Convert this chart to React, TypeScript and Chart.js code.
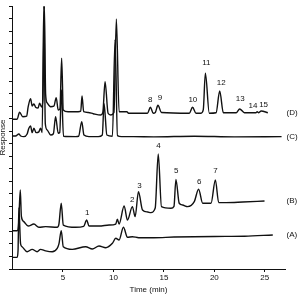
import { useEffect, useRef } from 'react';
import { Chart, registerables } from 'chart.js';

Chart.register(...registerables);

// ---- data (time in min, response in arbitrary units) ----
const aTime = [-0.05, 0.46, 0.55, 0.63, 0.80, 0.95, 1.45, 1.95, 2.44, 2.78, 3.28, 3.93, 4.43, 4.60, 4.83, 5.03, 5.92, 7.25, 7.91, 8.57, 9.24, 9.90, 10.23, 10.56, 10.99, 11.39, 11.88, 12.50, 14.00, 16.00, 20.00, 23.00, 25.79];
const aResp = [0.93, 0.93, 1.50, 4.87, 2.00, 1.78, 1.38, 1.57, 1.38, 1.57, 1.45, 1.38, 1.65, 2.00, 3.06, 1.78, 1.57, 1.78, 1.60, 1.84, 1.70, 2.05, 2.45, 2.32, 3.33, 2.53, 2.58, 2.50, 2.50, 2.55, 2.60, 2.62, 2.72];

const bTime = [-0.05, 0.46, 0.60, 0.77, 0.88, 1.12, 1.55, 2.12, 2.61, 3.28, 4.43, 4.60, 4.83, 5.03, 6.26, 7.05, 7.35, 7.58, 8.57, 9.57, 10.23, 10.39, 10.56, 11.06, 11.39, 11.88, 12.15, 12.48, 12.88, 13.40, 13.71, 14.14, 14.44, 14.76, 15.70, 16.00, 16.19, 16.52, 16.85, 17.35, 18.01, 18.44, 18.84, 19.67, 20.10, 20.43, 21.16, 22.81, 24.97];
const bResp = [3.06, 3.06, 3.50, 6.31, 4.20, 3.78, 3.43, 3.59, 3.33, 3.38, 3.33, 3.59, 5.25, 3.51, 3.33, 3.40, 3.91, 3.43, 3.43, 3.51, 3.59, 3.97, 3.59, 5.03, 3.91, 4.98, 4.18, 6.17, 4.71, 4.55, 4.50, 4.87, 9.19, 4.98, 4.85, 5.00, 7.16, 5.25, 5.11, 4.98, 5.38, 6.37, 5.25, 5.25, 7.11, 5.30, 5.30, 5.35, 5.43];

const cTime = [-0.05, 0.30, 0.63, 0.82, 1.12, 1.45, 1.62, 1.79, 1.95, 2.12, 2.34, 2.61, 2.78, 2.94, 3.10, 3.25, 3.44, 3.78, 4.05, 4.27, 4.53, 4.68, 4.85, 5.05, 6.26, 6.55, 6.86, 7.08, 7.58, 8.50, 8.90, 9.07, 9.35, 9.90, 10.16, 10.40, 10.80, 12.00, 14.00, 18.00, 22.00, 26.66];
const cResp = [10.62, 10.62, 10.78, 10.62, 10.57, 10.78, 11.24, 11.42, 10.89, 11.24, 10.89, 10.95, 11.24, 10.90, 21.00, 11.60, 11.10, 10.70, 10.80, 12.16, 10.84, 10.90, 14.30, 10.60, 10.57, 10.60, 11.77, 10.70, 10.57, 10.57, 10.70, 13.20, 10.70, 10.60, 18.30, 10.65, 10.57, 10.57, 10.55, 10.60, 10.55, 10.57];

const dTime = [-0.05, 0.46, 0.70, 1.02, 1.40, 1.55, 1.79, 1.95, 2.12, 2.29, 2.54, 2.68, 2.88, 3.01, 3.16, 3.28, 3.44, 3.78, 4.10, 4.33, 4.53, 4.70, 4.87, 5.03, 5.50, 6.50, 6.76, 6.89, 7.05, 7.50, 8.00, 8.74, 8.95, 9.17, 9.47, 9.74, 10.05, 10.29, 10.56, 11.33, 11.50, 13.37, 13.67, 13.94, 14.15, 14.41, 14.76, 17.52, 17.84, 18.18, 18.68, 18.90, 19.11, 19.50, 20.17, 20.53, 20.89, 22.16, 22.51, 22.98, 24.14, 24.24, 24.40, 24.64, 25.30];
const dResp = [11.96, 11.96, 12.52, 12.16, 12.20, 12.94, 13.60, 13.02, 13.18, 12.92, 12.86, 13.23, 12.94, 13.50, 21.00, 14.00, 13.26, 12.96, 13.00, 13.68, 12.70, 12.80, 16.83, 12.70, 12.56, 12.56, 12.60, 13.82, 12.56, 12.50, 12.40, 12.30, 12.50, 14.96, 12.44, 12.30, 12.50, 19.97, 12.56, 12.56, 12.44, 12.44, 12.92, 12.44, 12.50, 13.07, 12.50, 12.44, 12.92, 12.44, 12.44, 12.70, 15.63, 12.44, 12.48, 14.22, 12.48, 12.48, 12.78, 12.48, 12.48, 12.56, 12.48, 12.62, 12.48];

const seriesNames = ['(A)', '(B)', '(C)', '(D)'];

const peakNumbers = ['1', '2', '3', '4', '5', '6', '7', '8', '9', '10', '11', '12', '13', '14', '15'];
const peakLabelTime = [7.40, 11.86, 12.58, 14.47, 16.22, 18.50, 20.12, 13.64, 14.60, 17.87, 19.20, 20.68, 22.57, 23.82, 24.88];
const peakLabelResp = [4.50, 5.51, 6.63, 9.82, 7.83, 6.97, 7.83, 13.50, 13.68, 13.50, 16.48, 14.88, 13.63, 13.02, 13.15];

const xTicks = [5, 10, 15, 20, 25];
const xMin = -0.05;
const xMax = 27;
const yMin = 0;
const yMax = 21;

const FONT = '"Liberation Sans", Arial, Helvetica, sans-serif';
const INK = '#111';

const toPoints = (t: number[], r: number[]) => t.map((x, i) => ({ x, y: r[i] }));

const labelPlugin = {
  id: 'chromLabels',
  afterDatasetsDraw(chart: any) {
    const { ctx, scales, chartArea } = chart;
    const xs = scales.x;
    const ys = scales.y;
    ctx.save();
    ctx.fillStyle = INK;
    ctx.font = `8px ${FONT}`;
    ctx.textAlign = 'center';
    ctx.textBaseline = 'middle';
    peakNumbers.forEach((txt, i) => {
      ctx.fillText(txt, xs.getPixelForValue(peakLabelTime[i]), ys.getPixelForValue(peakLabelResp[i]));
    });
    ctx.textAlign = 'left';
    chart.data.datasets.forEach((ds: any, i: number) => {
      const last = ds.data[ds.data.length - 1];
      ctx.fillText(seriesNames[i], chartArea.right + 1.5, ys.getPixelForValue(last.y));
    });
    ctx.restore();
  },
};

export default function App() {
  const ref = useRef<HTMLCanvasElement>(null);
  useEffect(() => {
    const line = (t: number[], r: number[], label: string) => ({
      label,
      data: toPoints(t, r),
      borderColor: INK,
      borderWidth: 1.4,
      pointRadius: 0,
      fill: false,
      cubicInterpolationMode: 'monotone' as const,
    });
    const chart = new Chart(ref.current!, {
      type: 'line',
      data: {
        datasets: [
          line(aTime, aResp, seriesNames[0]),
          line(bTime, bResp, seriesNames[1]),
          line(cTime, cResp, seriesNames[2]),
          line(dTime, dResp, seriesNames[3]),
        ],
      },
      options: {
        responsive: false,
        animation: false,
        devicePixelRatio: 1,
        layout: { padding: { top: 6, right: 16, left: 0, bottom: 0 } },
        plugins: { legend: { display: false }, tooltip: { enabled: false } },
        scales: {
          x: {
            type: 'linear',
            min: xMin,
            max: xMax,
            afterBuildTicks: (s: any) => {
              s.ticks = xTicks.map((v) => ({ value: v }));
            },
            afterFit: (s: any) => {
              s.height = 25;
            },
            border: { display: true, color: INK, width: 1 },
            grid: { drawOnChartArea: false, drawTicks: true, tickLength: 3, color: INK },
            ticks: { color: INK, font: { family: FONT, size: 8 }, padding: 1, maxRotation: 0 },
            title: {
              display: true,
              text: 'Time (min)',
              color: INK,
              font: { family: FONT, size: 8, lineHeight: 1 },
              padding: { top: 0, bottom: 0 },
            },
          },
          y: {
            type: 'linear',
            min: yMin,
            max: yMax,
            afterBuildTicks: (s: any) => {
              const arr = [];
              for (let v = yMin; v <= yMax; v++) arr.push({ value: v });
              s.ticks = arr;
            },
            afterFit: (s: any) => {
              s.width = 12;
            },
            border: { display: true, color: INK, width: 1 },
            grid: { drawOnChartArea: false, drawTicks: true, tickLength: 3, color: INK },
            ticks: { display: false },
            title: {
              display: true,
              text: 'Response',
              color: INK,
              font: { family: FONT, size: 8, lineHeight: 0.8 },
              padding: { top: 0, bottom: 0 },
            },
          },
        },
      },
      plugins: [labelPlugin],
    });
    return () => chart.destroy();
  }, []);
  return (
    <div style={{ position: 'fixed', left: 0, top: 0, width: 301, height: 294, background: '#fff' }}>
      <canvas ref={ref} width={301} height={294} style={{ display: 'block', width: 301, height: 294 }} />
    </div>
  );
}
